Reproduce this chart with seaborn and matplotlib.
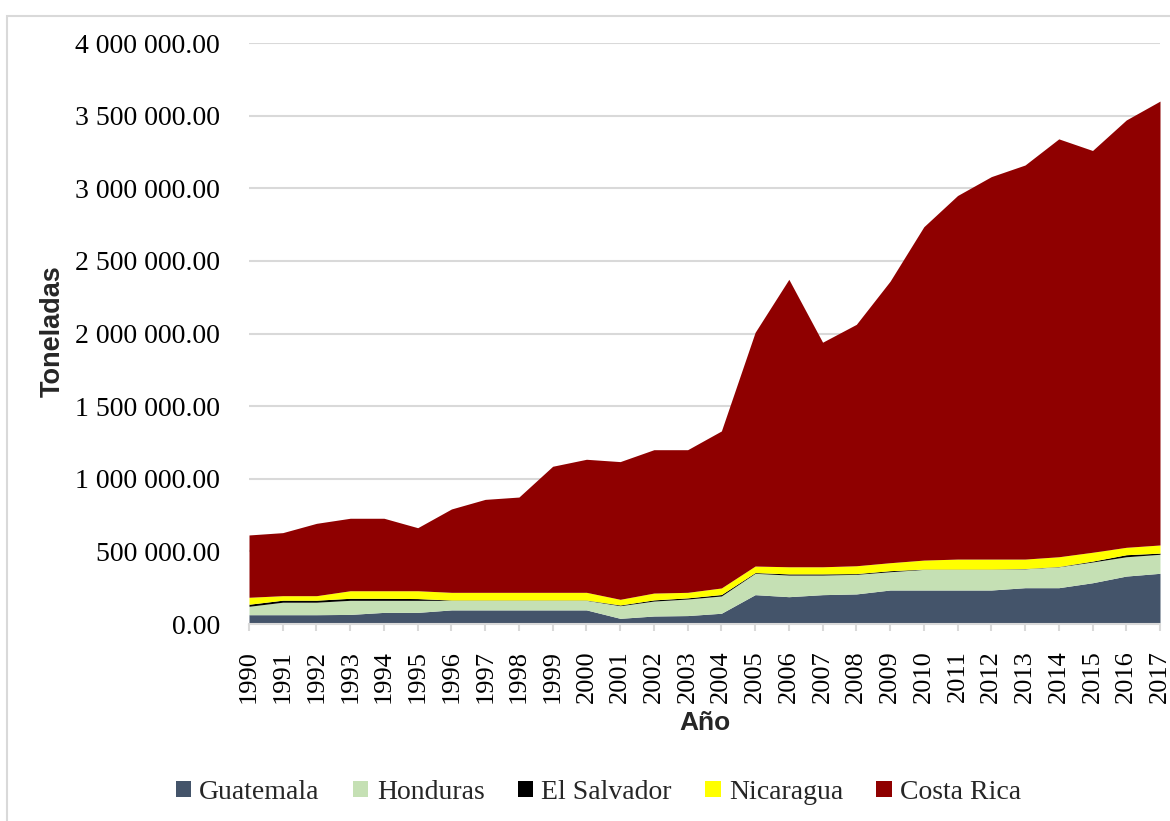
import numpy as np
import matplotlib
matplotlib.use("Agg")
import matplotlib.pyplot as plt
import matplotlib.patches as mpatches
import seaborn as sns

# --- datos (toneladas) ---
years = list(range(1990, 2018))
guatemala = [64000, 64000, 64000, 66000, 80000, 80000, 97000, 97000, 97000, 97000,
             97000, 39000, 55000, 58000, 74000, 202000, 188000, 202000, 207000, 234000,
             234000, 234000, 234000, 250000, 250000, 284000, 330000, 349000]
honduras = [58000, 86000, 86000, 97000, 83000, 83000, 66000, 66000, 66000, 66000,
            66000, 87000, 103000, 114000, 119000, 147000, 149000, 135000, 135000, 126000,
            142000, 142000, 142000, 130000, 144000, 143000, 133000, 131000]
el_salvador = [14000, 14000, 14000, 14000, 14000, 12000, 2000, 2000, 2000, 2000,
               2000, 5000, 8000, 8000, 10000, 5000, 8000, 8000, 5000, 7000,
               2000, 2000, 2000, 2000, 2000, 6000, 14000, 8000]
nicaragua = [48000, 31000, 31000, 52000, 52000, 54000, 53000, 53000, 53000, 53000,
             53000, 39000, 47000, 38000, 45000, 45000, 49000, 49000, 54000, 55000,
             62000, 69000, 69000, 65000, 67000, 61000, 51000, 56000]
costa_rica = [429000, 434000, 498000, 499000, 499000, 434000, 574000, 640000, 656000, 868000,
              916000, 948000, 987000, 982000, 1081000, 1609000, 1979000, 1546000, 1662000, 1938000,
              2295000, 2503000, 2633000, 2713000, 2877000, 2766000, 2942000, 3056000]

countries = ["Guatemala", "Honduras", "El Salvador", "Nicaragua", "Costa Rica"]
colors = ["#44546A", "#C5E0B4", "#000000", "#FFFF00", "#8F0000"]

# --- estilo ---
sns.set_theme(style="white")
plt.rcParams["font.family"] = ["Liberation Serif", "DejaVu Serif"]

fig = plt.figure(figsize=(11.7, 8.21), dpi=100)
ax = fig.add_axes([249 / 1170, 1 - 624 / 821, 911 / 1170, 581 / 821])

ax.stackplot(years, guatemala, honduras, el_salvador, nicaragua, costa_rica,
             colors=colors, linewidth=0)

yticks = np.arange(0, 4000001, 500000)
ax.set_xlim(1990, 2017)
ax.set_ylim(0, 4000000)
ax.set_yticks(yticks)
ax.set_yticklabels([f"{v:,.2f}".replace(",", " ") for v in yticks], fontsize=20)
ax.set_xticks(years)
ax.set_xticklabels([str(y) for y in years], rotation=90, fontsize=19)

ax.yaxis.grid(True, color="#d9d9d9", linewidth=1.5)
ax.set_axisbelow(True)
sns.despine(ax=ax, left=True, top=True, right=True)
ax.spines["bottom"].set_color("#d9d9d9")
ax.spines["bottom"].set_linewidth(1.5)
ax.tick_params(axis="y", length=0, pad=21, colors="black")
ax.tick_params(axis="x", length=5, width=1.5, color="#d9d9d9", pad=14, labelcolor="black",
               bottom=True, direction="out")

ax.set_ylabel("Toneladas", fontsize=19.5, fontweight="bold", family="Liberation Sans")
ax.set_xlabel("Año", fontsize=19, fontweight="bold", family="Liberation Sans")
ax.yaxis.set_label_coords((66 - 249) / 911, (624 - 331) / 581)
ax.xaxis.set_label_coords((705 - 249) / 911, (624 - 711) / 581)

handles = [mpatches.Patch(facecolor=c, edgecolor="none") for c in colors]
fig.legend(handles, countries, loc="center", bbox_to_anchor=(0.5115, 0.035), ncol=5,
           frameon=False, fontsize=20, handlelength=0.55, handleheight=0.55,
           handletextpad=0.3, columnspacing=1.2)

# marco exterior del gráfico
fig.patches.append(mpatches.Rectangle((7 / 1170, -0.02), 1.1, 1 - 16 / 821 + 0.02,
                                      transform=fig.transFigure, fill=False,
                                      edgecolor="#d9d9d9", linewidth=1.5))

fig.savefig("out.png", dpi=100)
